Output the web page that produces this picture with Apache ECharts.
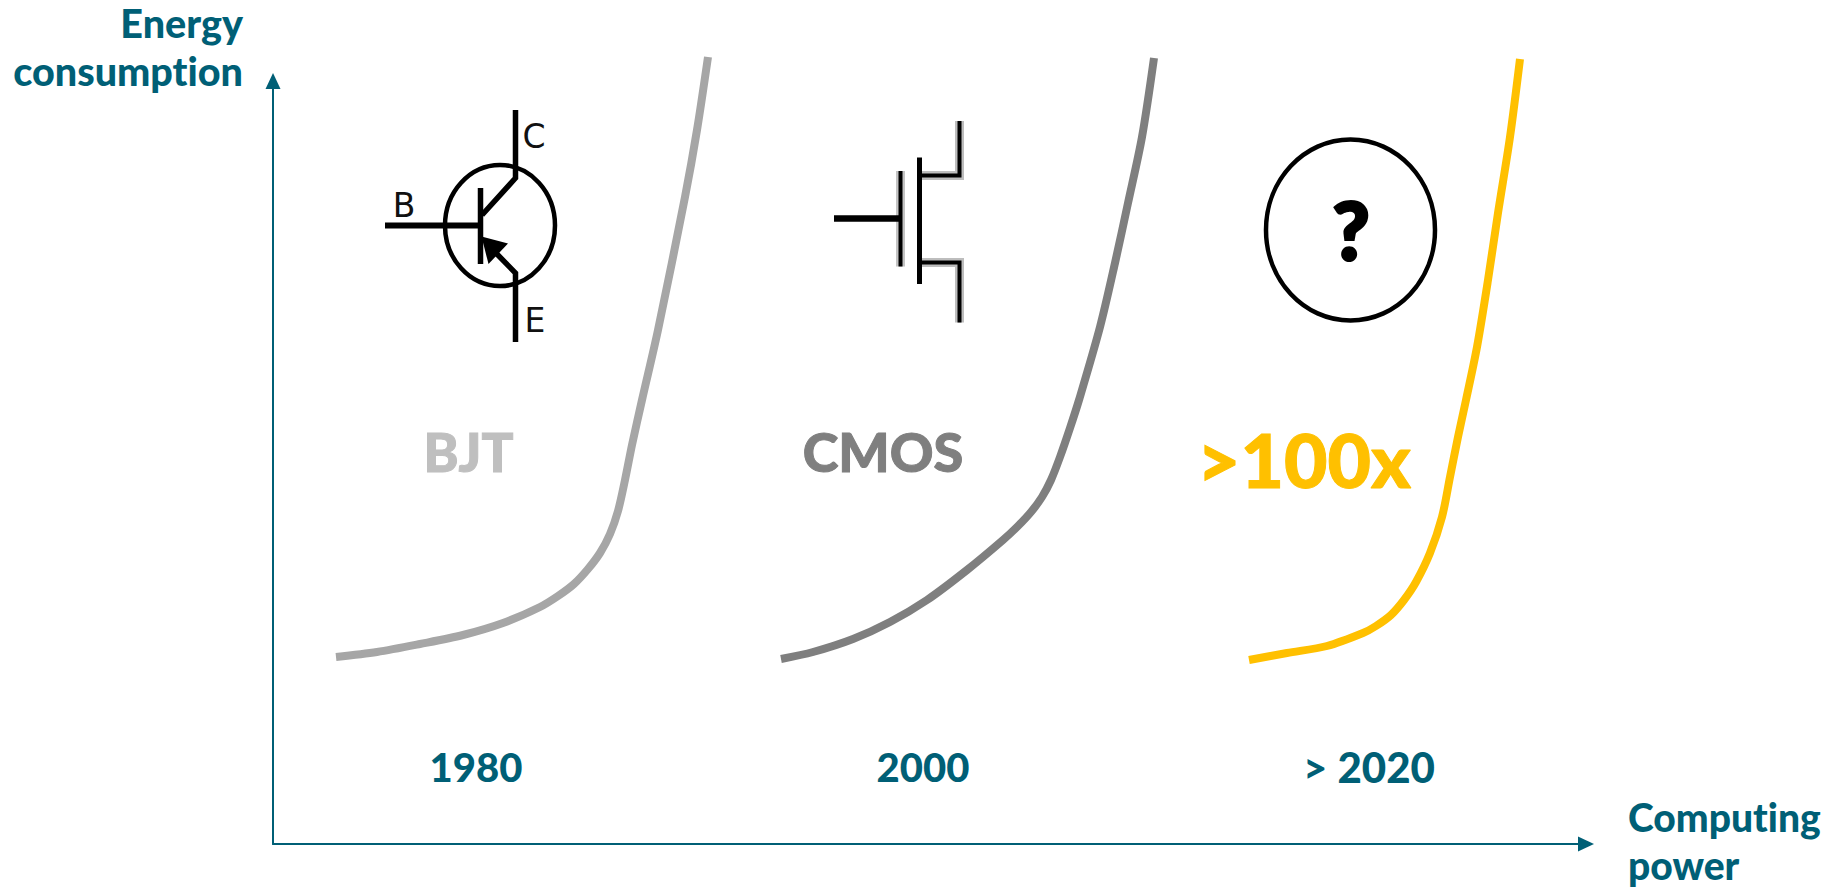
<!DOCTYPE html>
<html>
<head>
<meta charset="utf-8">
<title>Energy consumption vs computing power</title>
<script src="https://cdn.jsdelivr.net/npm/echarts@6/dist/echarts.min.js"></script>
<style>
  html, body { margin: 0; padding: 0; background: #fff; }
  #chart { width: 1837px; height: 889px; }
  #chart text { font-variant-ligatures: none !important; }
</style>
</head>
<body>
<div id="chart"></div>
<script>
// Schematic curves: [computing power, energy consumption] in arbitrary units.
const bjtCurve = [[63,187],[104,192],[147,200],[190,209],[230,221],[267,237],[285,248],[301,260],[315,275],[327,291],[337,310],[345,333],[352,364],[359,399],[369,444],[385,514],[412,647],[424,714],[435,787]];
const cmosCurve = [[508,185],[540,192],[580,205],[617,222],[654,244],[694,274],[730,304],[745,318],[758,332],[769,347],[778,364],[787,387],[797,416],[806,444],[827,517],[842,581],[855,641],[869,707],[881,786]];
const futureCurve = [[976,184],[1014,191],[1054,198],[1090,211],[1103,218],[1118,229],[1131,244],[1143,262],[1157,291],[1169,327],[1177,367],[1185,407],[1193,444],[1204,497],[1215,564],[1225,631],[1237,707],[1247,785]];

const technologies = ['BJT', 'CMOS', '>100x'];
const eras = ['1980', '2000', '> 2020'];
const xAxisTitleLines = ['Computing', 'power'];
const yAxisTitle = 'Energy\nconsumption';

const TEAL = '#005F76';
const TEXT_FONT = 'Lato, Carlito, "Open Sans", sans-serif';

function curve(name, data, color) {
  return {
    name, type: 'line', data, smooth: 0.3, showSymbol: false, clip: false,
    lineStyle: { color, width: 8, cap: 'butt', join: 'round' }, silent: true
  };
}

function label(text, x, y, size, color, edge) {
  return {
    type: 'text', x, y, silent: true,
    style: {
      text, fill: color, stroke: color, lineWidth: edge || 0,
      align: 'center', verticalAlign: 'middle',
      font: '900 ' + size + 'px ' + TEXT_FONT
    }
  };
}

function axisTitleLine(text, x, y) {
  return {
    type: 'text', x, y, silent: true,
    style: {
      text, fill: TEAL, align: 'left', verticalAlign: 'middle', lineHeight: 38,
      font: '900 39px ' + TEXT_FONT
    }
  };
}

function wire(points, width, color) {
  return {
    type: 'polyline', silent: true, shape: { points },
    style: { stroke: color || '#000', lineWidth: width, fill: null, lineCap: 'butt', lineJoin: 'miter' }
  };
}

function oval(cx, cy, rx, ry, width) {
  return {
    type: 'ellipse', silent: true, shape: { cx, cy, rx, ry },
    style: { stroke: '#000', lineWidth: width, fill: 'none' }
  };
}

function pinLetter(text, x, y) {
  return {
    type: 'text', x, y, silent: true,
    style: { text, fill: '#111', align: 'center', verticalAlign: 'middle', font: '33px "DejaVu Sans", sans-serif' }
  };
}

// Bipolar transistor symbol
const bjtSymbol = [
  oval(500, 225.5, 55, 60.5, 4.5),
  wire([[515.5, 110], [515.5, 178], [482, 215]], 5.5),
  wire([[385, 225.5], [480, 225.5]], 6),
  wire([[480.5, 188], [480.5, 264]], 5.5),
  wire([[515.5, 342], [515.5, 273], [493, 250]], 5.5),
  { type: 'polygon', silent: true, shape: { points: [[481.5, 236.5], [508, 243.5], [488.5, 264]] }, style: { fill: '#000' } },
  pinLetter('C', 534, 136.5),
  pinLetter('B', 404, 205),
  pinLetter('E', 535, 320.5)
];

// MOSFET symbol, each wire with its soft grey edge beneath it
const gatePlate = [[900.5, 171], [900.5, 266.5]];
const drainWire = [[922, 175.5], [959.5, 175.5], [959.5, 121]];
const sourceWire = [[922, 262.5], [959.5, 262.5], [959.5, 322.5]];
const cmosSymbol = [
  wire(gatePlate, 9, '#c4c4c4'),
  wire(drainWire, 9, '#bdbdbd'),
  wire(sourceWire, 9, '#bdbdbd'),
  wire(gatePlate, 4, '#000'),
  wire(drainWire, 4, '#000'),
  wire(sourceWire, 4, '#000'),
  wire([[834, 218.5], [900, 218.5]], 6.5),
  wire([[919.5, 157.5], [919.5, 284]], 5)
];

// Unknown future device
const unknownSymbol = [
  oval(1350.5, 230, 84.5, 90.5, 4.5),
  label('?', 1351, 229, 80, '#000', 3)
];

const annotations = [
  label(technologies[0], 468.5, 451.5, 53, '#BFBFBF', 1),
  label(technologies[1], 883, 451.5, 54, '#7F7F7F', 1),
  label(technologies[2], 1304, 459, 75, '#FFC000', 1),
  label(eras[0], 476, 767, 40, TEAL),
  label(eras[1], 923, 767, 40, TEAL),
  label(eras[2], 1369, 767, 42, TEAL),
  axisTitleLine(xAxisTitleLines[0], 1628, 817),
  axisTitleLine(xAxisTitleLines[1], 1628, 865)
];

const axisLine = {
  show: true, onZero: false, symbol: ['none', 'triangle'], symbolSize: [15, 16],
  lineStyle: { color: TEAL, width: 2 }
};

const chart = echarts.init(document.getElementById('chart'), null, { renderer: 'svg' });
chart.setOption({
  animation: false,
  backgroundColor: '#fff',
  tooltip: { show: false },
  grid: { left: 273, top: 81, right: 251, bottom: 45, outerBoundsMode: 'none' },
  xAxis: {
    type: 'value', min: 0, max: 1313,
    axisLine,
    axisTick: { show: false }, axisLabel: { show: false }, splitLine: { show: false }
  },
  yAxis: {
    type: 'value', min: 0, max: 763,
    name: yAxisTitle, nameLocation: 'end', nameGap: -13,
    nameTextStyle: { color: TEAL, fontFamily: TEXT_FONT, fontWeight: 900, fontSize: 39.5, lineHeight: 48, align: 'right', verticalAlign: 'bottom', padding: [0, 30, 0, 0] },
    axisLine,
    axisTick: { show: false }, axisLabel: { show: false }, splitLine: { show: false }
  },
  series: [
    curve('BJT', bjtCurve, '#A6A6A6'),
    curve('CMOS', cmosCurve, '#7F7F7F'),
    curve('Future', futureCurve, '#FFC000')
  ],
  graphic: { elements: bjtSymbol.concat(cmosSymbol, unknownSymbol, annotations) }
});
</script>
</body>
</html>
